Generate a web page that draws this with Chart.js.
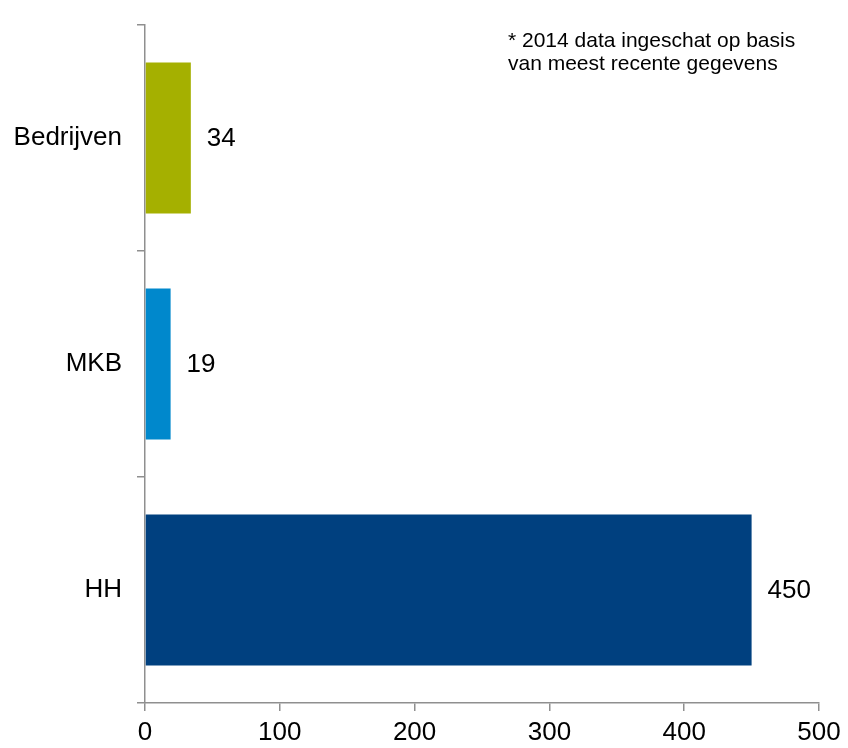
<!DOCTYPE html>
<html>
<head>
<meta charset="utf-8">
<script src="https://cdn.jsdelivr.net/npm/chart.js@4"></script>
<style>
  html, body { margin: 0; padding: 0; background: #fff; }
  #wrap { width: 848px; height: 748px; }
</style>
</head>
<body>
<div id="wrap"><canvas id="barChart" width="848" height="748"></canvas></div>
<script>
const categories = ["Bedrijven", "MKB", "HH"];
const values = [34, 19, 450];
const barColors = ["#A5B000", "#0088CC", "#00407F"];
const xTicks = [0, 100, 200, 300, 400, 500];
const noteLines = ["* 2014 data ingeschat op basis", "van meest recente gegevens"];

const FONT = "'Liberation Sans', Arial, sans-serif";
const AXIS_GRAY = "#8f8f8f";

// value labels next to each bar
const valueLabels = {
  id: "valueLabels",
  afterDatasetsDraw(chart) {
    const ctx = chart.ctx;
    const meta = chart.getDatasetMeta(0);
    ctx.save();
    ctx.font = "26px " + FONT;
    ctx.fillStyle = "#000";
    ctx.textAlign = "left";
    ctx.textBaseline = "middle";
    meta.data.forEach((bar, i) => {
      ctx.fillText(String(values[i]), bar.x + 16, bar.y + 1);
    });
    ctx.restore();
  }
};

// footnote at the top right
const note = {
  id: "note",
  afterDraw(chart) {
    const ctx = chart.ctx;
    ctx.save();
    ctx.font = "21px " + FONT;
    ctx.fillStyle = "#000";
    ctx.textAlign = "left";
    ctx.textBaseline = "alphabetic";
    noteLines.forEach((line, i) => {
      ctx.fillText(line, 508, 47 + i * 23);
    });
    ctx.restore();
  }
};

const ctx = document.getElementById("barChart").getContext("2d");
new Chart(ctx, {
  type: "bar",
  data: {
    labels: categories,
    datasets: [{
      data: values,
      backgroundColor: barColors,
      borderWidth: 0,
      barPercentage: 0.668,
      categoryPercentage: 1
    }]
  },
  options: {
    indexAxis: "y",
    responsive: false,
    animation: false,
    layout: { padding: { top: 25, right: 29, left: 0, bottom: 0 } },
    plugins: {
      legend: { display: false },
      tooltip: { enabled: false }
    },
    scales: {
      x: {
        min: 0,
        max: 500,
        afterBuildTicks: s => { s.ticks = xTicks.map(v => ({ value: v })); },
        afterFit: s => { s.height = 45; },
        grid: { drawOnChartArea: false, drawTicks: true, tickLength: 8, color: AXIS_GRAY, lineWidth: 1.5 },
        border: { color: AXIS_GRAY, width: 1.5 },
        ticks: { font: { family: FONT, size: 26 }, color: "#000", padding: 6, maxRotation: 0 }
      },
      y: {
        afterFit: s => { s.width = 145; s.paddingTop = 0; s.paddingBottom = 0; },
        grid: { offset: true, drawOnChartArea: false, drawTicks: true, tickLength: 8, color: AXIS_GRAY, lineWidth: 1.5 },
        border: { color: AXIS_GRAY, width: 1.5 },
        ticks: { font: { family: FONT, size: 26 }, color: "#000", padding: 15 }
      }
    }
  },
  plugins: [valueLabels, note]
});
</script>
</body>
</html>
